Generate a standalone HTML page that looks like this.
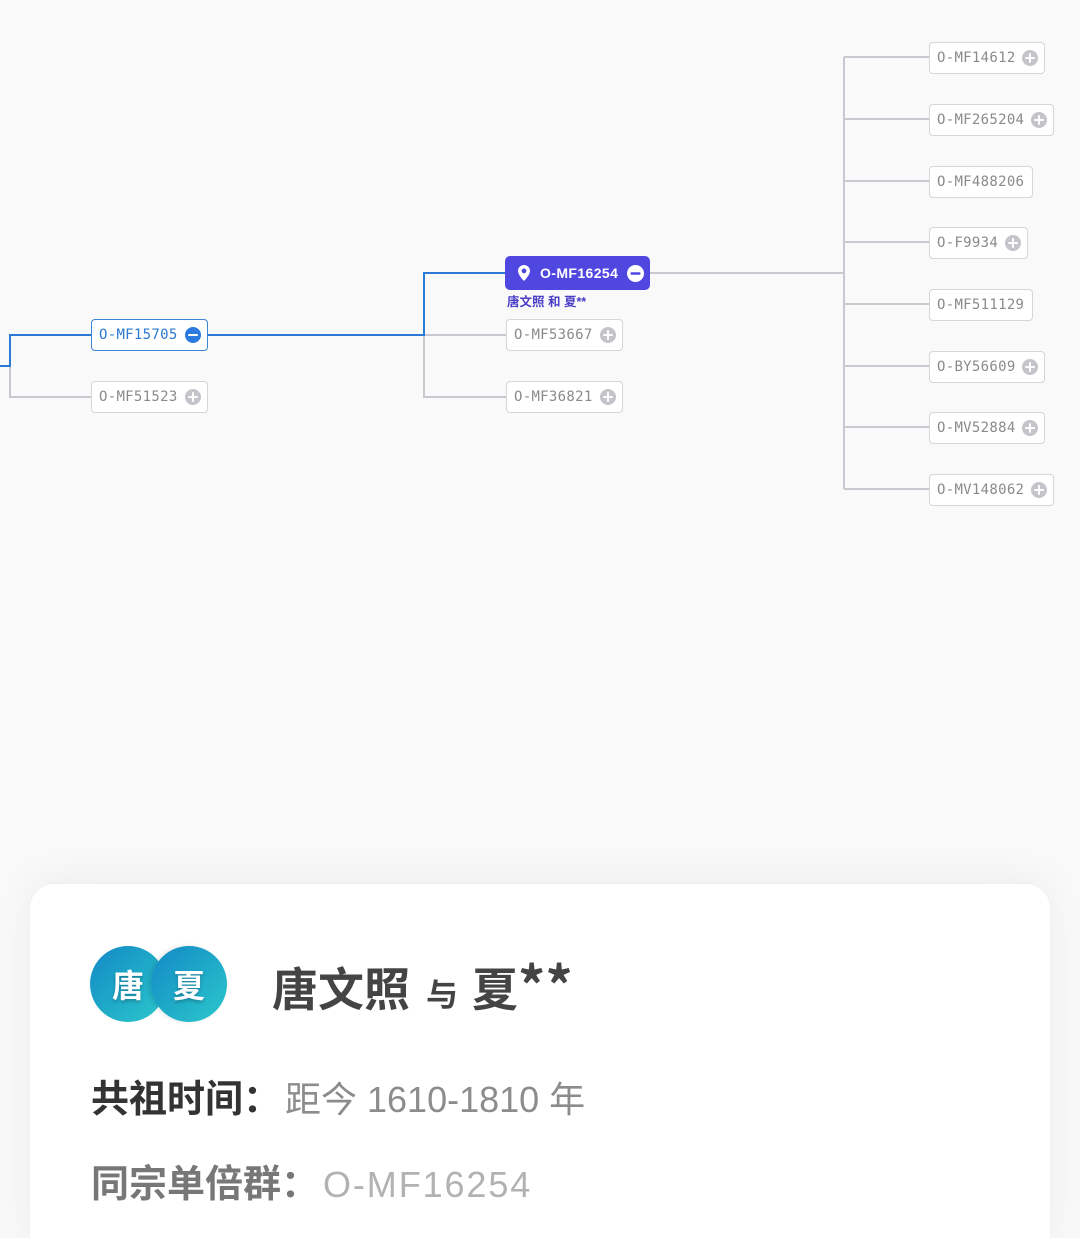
<!DOCTYPE html>
<html><head><meta charset="utf-8">
<style>
html,body{margin:0;padding:0;width:1080px;height:1238px;overflow:hidden;}
body{background:#f9f9fa;position:relative;font-family:"Liberation Sans","Noto Sans CJK SC",sans-serif;}
svg.lines{position:absolute;left:0;top:0;}
.node{position:absolute;box-sizing:border-box;height:32px;background:#fff;border:1px solid #d5d5da;border-radius:4px;font-family:"DejaVu Sans Mono","Liberation Mono",monospace;font-size:14px;letter-spacing:0.3px;color:#8a8a8a;line-height:30px;padding-left:7px;white-space:nowrap;}
.node .ic{position:absolute;right:6px;top:7px;width:16px;height:16px;border-radius:50%;background:#c4c4ca;}
.node .ic:before{content:"";position:absolute;left:3px;top:7px;width:10px;height:2.4px;background:#fff;border-radius:1px;}
.node .ic.plus:after{content:"";position:absolute;left:6.8px;top:3px;width:2.4px;height:10px;background:#fff;border-radius:1px;}
.node.blue{border-color:#3c86d8;color:#2a78d0;}
.node.blue .ic{background:#2a7ae0;}
.pnode{position:absolute;left:505px;top:256px;width:145px;height:34px;background:#5046e0;border-radius:5px;color:#fff;font-weight:bold;font-size:14px;line-height:34px;font-family:"Liberation Sans",sans-serif;}
.pnode .t{position:absolute;left:35px;top:0;letter-spacing:0.4px;}
.plabel{position:absolute;left:507px;top:291px;font-size:12.5px;font-weight:bold;color:#4a3dc6;font-family:"Liberation Sans","Noto Sans CJK SC",sans-serif;white-space:nowrap;}
.card{position:absolute;left:30px;top:884px;width:1020px;height:380px;background:#fff;border-radius:24px;box-shadow:0 -6px 40px rgba(0,0,0,0.05),0 0 2px rgba(0,0,0,0.04);}
.av{position:absolute;width:76px;height:76px;border-radius:50%;background:linear-gradient(135deg,#1388c6 0%,#1ea9c8 50%,#2cc7cc 100%);color:#fff;font-weight:bold;font-size:32px;line-height:76px;text-align:center;font-family:"Noto Sans CJK SC",sans-serif;text-shadow:0 2px 3px rgba(0,0,0,0.25);}
.title{position:absolute;left:272px;top:950px;font-size:46px;font-weight:bold;color:#444;font-family:"Liberation Sans","Noto Sans CJK SC",sans-serif;white-space:nowrap;line-height:66px;}
.title .s{font-size:32px;margin:0 14px 0 16px;}
.title .a{font-size:54px;font-family:"Noto Sans CJK SC",sans-serif;}
.row{position:absolute;left:91px;white-space:nowrap;font-family:"Liberation Sans","Noto Sans CJK SC",sans-serif;line-height:50px;}
.row .l{font-size:38px;font-weight:bold;}
.row .v{font-size:36px;margin-left:4px;}
</style></head><body>

<svg class="lines" width="1080" height="600" viewBox="0 0 1080 600">
<g fill="none" stroke="#c8c8d0" stroke-width="2">
<path d="M10 366 V397 H91"/>
<path d="M424 335 H507"/>
<path d="M424 335 V397 H507"/>
<path d="M650 273 H844"/>
<path d="M844 57 V489"/>
<path d="M844 57 H929 M844 119 H929 M844 181 H929 M844 242 H929 M844 304 H929 M844 366 H929 M844 427 H929 M844 489 H929"/>
</g>
<g fill="none" stroke="#2a7ad6" stroke-width="2">
<path d="M0 366 H10 V335 H91"/>
<path d="M208 335 H424 V273 H505"/>
</g>
</svg>

<div class="node blue" style="left:91px;top:319px;width:117px;">O-MF15705<span class="ic"></span></div>
<div class="node" style="left:91px;top:381px;width:117px;">O-MF51523<span class="ic plus"></span></div>

<div class="pnode">
<svg style="position:absolute;left:13px;top:9px;" width="12" height="16" viewBox="0 0 12 16"><path d="M6 0C2.7 0 0 2.6 0 5.9 0 10.2 6 16 6 16s6-5.8 6-10.1C12 2.6 9.3 0 6 0zm0 8.3a2.4 2.4 0 1 1 0-4.8 2.4 2.4 0 0 1 0 4.8z" fill="#fff"/></svg>
<span class="t">O-MF16254</span>
<svg style="position:absolute;left:122px;top:9px;" width="17" height="17" viewBox="0 0 17 17"><circle cx="8.5" cy="8.5" r="8.5" fill="#fff"/><rect x="3.5" y="7.2" width="10" height="2.6" rx="1" fill="#5046e0"/></svg>
</div>
<div class="plabel">唐文照 和 夏**</div>

<div class="node" style="left:506px;top:319px;width:117px;">O-MF53667<span class="ic plus"></span></div>
<div class="node" style="left:506px;top:381px;width:117px;">O-MF36821<span class="ic plus"></span></div>

<div class="node" style="left:929px;top:42px;width:116px;">O-MF14612<span class="ic plus"></span></div>
<div class="node" style="left:929px;top:104px;width:125px;">O-MF265204<span class="ic plus"></span></div>
<div class="node" style="left:929px;top:166px;width:104px;">O-MF488206</div>
<div class="node" style="left:929px;top:227px;width:99px;">O-F9934<span class="ic plus"></span></div>
<div class="node" style="left:929px;top:289px;width:104px;">O-MF511129</div>
<div class="node" style="left:929px;top:351px;width:116px;">O-BY56609<span class="ic plus"></span></div>
<div class="node" style="left:929px;top:412px;width:116px;">O-MV52884<span class="ic plus"></span></div>
<div class="node" style="left:929px;top:474px;width:125px;">O-MV148062<span class="ic plus"></span></div>

<div class="card"></div>
<div class="av" style="left:90px;top:946px;">唐</div>
<div class="av" style="left:151px;top:946px;box-shadow:-2px 0 4px rgba(0,0,0,0.12);">夏</div>
<div class="title">唐文照<span class="s">与</span>夏<span class="a">**</span></div>

<div class="row" style="top:1075px;"><span class="l" style="color:#333;">共祖时间：</span><span class="v" style="color:#8c8c8c;">距今 1610-1810 年</span></div>
<div class="row" style="top:1160px;"><span class="l" style="color:#777;">同宗单倍群：</span><span class="v" style="color:#b2b2b2;letter-spacing:1.9px;">O-MF16254</span></div>

</body></html>
